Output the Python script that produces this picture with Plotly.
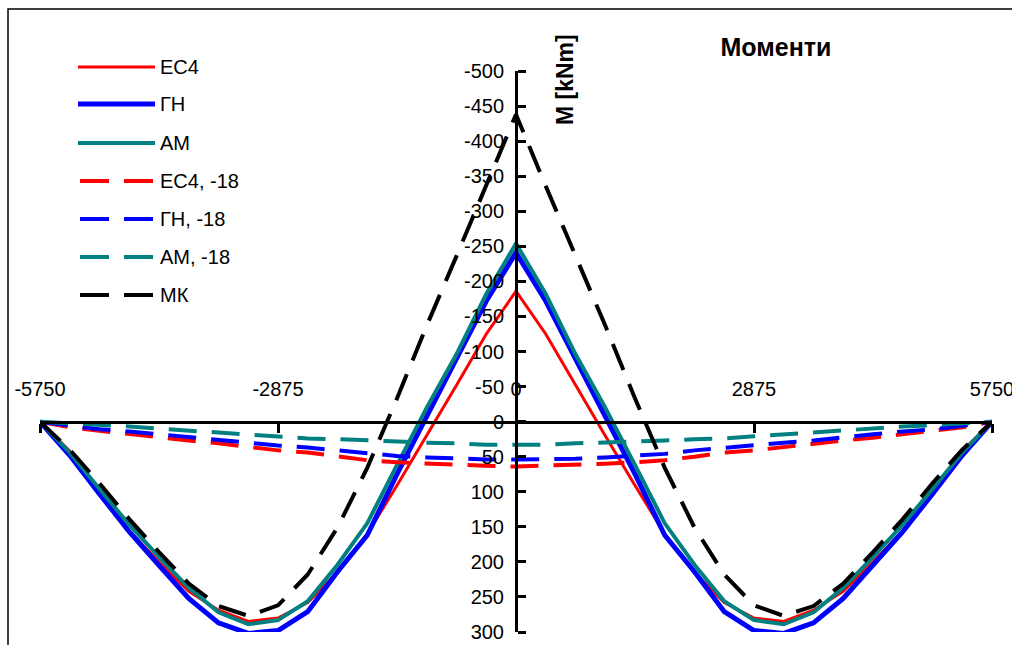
import plotly.graph_objects as go

# ---------------- data ----------------
x_mm = [-5750, -5391, -5031, -4672, -4313, -3953, -3594, -3234, -2875, -2516, -2156, -1797,
        -1438, -1078, -719, -359, 0, 359, 719, 1078, 1438, 1797, 2156, 2516, 2875, 3234,
        3594, 3953, 4313, 4672, 5031, 5391, 5750]

ec4 = [0, 42, 99, 156, 200, 242, 269, 285, 280, 258, 215, 160, 91, 20, -52, -125, -186,
       -125, -52, 20, 91, 160, 215, 258, 280, 285, 269, 242, 200, 156, 99, 42, 0]
gn = [0, 48, 103, 157, 205, 252, 287, 302, 298, 271, 214, 162, 75, -9, -90, -172, -241,
      -172, -90, -9, 75, 162, 214, 271, 298, 302, 287, 252, 205, 157, 103, 48, 0]
am = [0, 44, 96, 147, 193, 237, 272, 289, 283, 256, 204, 145, 62, -20, -96, -182, -254,
      -182, -96, -20, 62, 145, 204, 256, 283, 289, 272, 237, 193, 147, 96, 44, 0]
ec4_18 = [0, 8, 13, 18, 23, 27, 31, 36, 41, 44, 50, 55, 58, 60, 62, 63, 64,
          63, 62, 60, 58, 55, 50, 44, 41, 36, 31, 27, 23, 18, 13, 8, 0]
gn_18 = [0, 6, 11, 14, 18, 22, 27, 30, 34, 37, 41, 46, 49, 51, 53, 54, 54,
         54, 53, 51, 49, 46, 41, 37, 34, 30, 27, 22, 18, 14, 11, 6, 0]
am_18 = [0, 2, 5, 7, 10, 13, 15, 18, 21, 24, 25, 27, 29, 30, 31, 33, 33,
         33, 31, 30, 29, 27, 25, 24, 21, 18, 15, 13, 10, 7, 5, 2, 0]
mk = [0, 40, 88, 139, 186, 231, 263, 277, 262, 218, 151, 66, -33, -137, -236, -336, -438,
      -336, -236, -137, -33, 66, 151, 218, 262, 277, 263, 231, 186, 139, 88, 40, 0]

x_ticks = [-5750, -2875, 0, 2875, 5750]
x_tick_text = ["-5750", "-2875", "0", "2875", "5750"]
y_ticks = [-500, -450, -400, -350, -300, -250, -200, -150, -100, -50, 0, 50, 100, 150, 200, 250, 300]
y_tick_text = ["-500", "-450", "-400", "-350", "-300", "-250", "-200", "-150", "-100", "-50",
               "0", "50", "100", "150", "200", "250", "300"]

series = [
    ("ЕС4", ec4, "#FF0000", 3, "solid"),
    ("ГН", gn, "#0000FF", 5, "solid"),
    ("АМ", am, "#008080", 4, "solid"),
    ("ЕС4, -18", ec4_18, "#FF0000", 4, "28px,15px"),
    ("ГН, -18", gn_18, "#0000FF", 4, "28px,15px"),
    ("АМ, -18", am_18, "#008080", 4, "28px,15px"),
    ("МК", mk, "#000000", 4, "28px,15px"),
]

FONT = "Liberation Sans, Arial, sans-serif"
W, H = 1012, 645
L, R, T, B = 40, 992, 71, 632


def pxx(px):
    return (px - L) / (R - L)


def pxy(py):
    return (B - py) / (B - T)


fig = go.Figure()
for name, vals, col, w, dash in series:
    fig.add_trace(go.Scatter(x=x_mm, y=vals, mode="lines", name=name, showlegend=False,
                             line=dict(color=col, width=w, dash=dash)))

# manual legend (long line samples as in the original)
shapes = []
annotations = []
leg_y = [67, 104, 143, 181, 219, 257, 295]
for (name, vals, col, w, dash), yy in zip(series, leg_y):
    if dash == "solid":
        shapes.append(dict(type="line", xref="paper", yref="paper", x0=pxx(78), x1=pxx(155),
                           y0=pxy(yy), y1=pxy(yy), line=dict(color=col, width=w)))
    else:
        shapes.append(dict(type="line", xref="paper", yref="paper", x0=pxx(80), x1=pxx(109),
                           y0=pxy(yy), y1=pxy(yy), line=dict(color=col, width=w)))
        shapes.append(dict(type="line", xref="paper", yref="paper", x0=pxx(124), x1=pxx(153),
                           y0=pxy(yy), y1=pxy(yy), line=dict(color=col, width=w)))
    annotations.append(dict(text=name, xref="paper", yref="paper", x=pxx(158), y=pxy(yy),
                            xanchor="left", yanchor="middle", showarrow=False,
                            font=dict(family=FONT, size=20, color="black")))

# outer frame
shapes.append(dict(type="rect", xref="paper", yref="paper", x0=pxx(8), y0=pxy(9),
                   x1=pxx(1030), y1=pxy(660), line=dict(color="black", width=1.5),
                   fillcolor="rgba(0,0,0,0)", layer="above"))

annotations.append(dict(text="<b>M [kNm]</b>", xref="paper", yref="paper", x=pxx(565), y=pxy(80),
                        xanchor="center", yanchor="middle", textangle=-90, showarrow=False,
                        font=dict(family=FONT, size=23, color="black")))

fig.update_layout(
    width=W, height=H, autosize=False,
    margin=dict(l=L, r=W - R, t=T, b=H - B, pad=0, autoexpand=False),
    paper_bgcolor="white", plot_bgcolor="white",
    title=dict(text="<b>Моменти</b>", x=776 / W, y=1 - 47.5 / H, xanchor="center", yanchor="middle",
               automargin=False, font=dict(family=FONT, size=25, color="black")),
    shapes=shapes, annotations=annotations,
    xaxis=dict(range=[-5750, 5750], anchor="free", position=300 / 800, side="bottom",
               automargin=False,
               showgrid=False, zeroline=False, showline=True, linecolor="black", linewidth=3,
               ticks="outside", ticklen=9, tickwidth=3, tickcolor="black",
               tickmode="array", tickvals=x_ticks, ticktext=x_tick_text,
               ticklabelposition="inside", ticklabeloverflow="allow", ticklabelstandoff=22,
               tickfont=dict(family=FONT, size=20, color="black")),
    yaxis=dict(range=[300, -500], anchor="free", position=0.5, side="right",
               automargin=False,
               showgrid=False, zeroline=False, showline=True, linecolor="black", linewidth=3,
               ticks="outside", ticklen=8, tickwidth=3, tickcolor="black",
               tickmode="array", tickvals=y_ticks, ticktext=y_tick_text,
               ticklabelposition="inside", ticklabeloverflow="allow", ticklabelstandoff=12,
               tickfont=dict(family=FONT, size=20, color="black")),
    font=dict(family=FONT, size=20, color="black"),
)

fig.write_html("out.html")
